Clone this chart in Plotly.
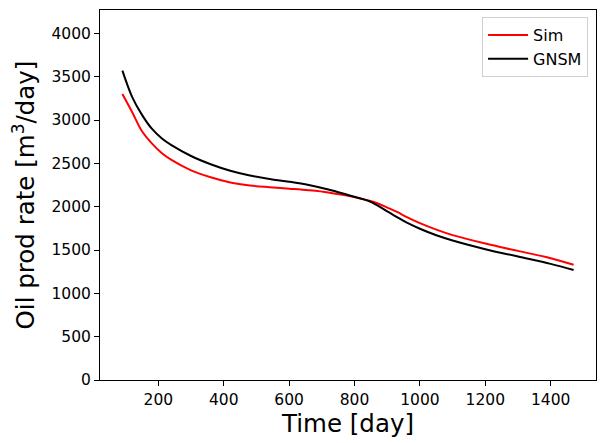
import plotly.graph_objects as go

days = [90, 120, 150, 180, 210, 240, 300, 360, 420, 480, 540, 600, 660, 720,
        780, 840, 870, 900, 930, 960, 1000, 1050, 1100, 1200, 1300, 1400, 1470]

sim = [3300, 3090, 2870, 2730, 2620, 2540, 2420, 2340, 2280, 2245, 2225, 2208,
       2190, 2165, 2125, 2075, 2040, 1990, 1940, 1880, 1810, 1735, 1672, 1575,
       1490, 1405, 1330]

gnsm = [3570, 3265, 3060, 2900, 2790, 2710, 2585, 2490, 2415, 2360, 2320, 2288,
        2250, 2198, 2135, 2070, 2015, 1945, 1880, 1815, 1745, 1670, 1610, 1510,
        1425, 1340, 1270]

x_ticks = [200, 400, 600, 800, 1000, 1200, 1400]
y_ticks = [0, 500, 1000, 1500, 2000, 2500, 3000, 3500, 4000]

font = "DejaVu Sans"

fig = go.Figure()
fig.add_trace(go.Scatter(x=days, y=sim, mode="lines", name="Sim",
                         line=dict(color="#ff0000", width=2, shape="spline")))
fig.add_trace(go.Scatter(x=days, y=gnsm, mode="lines", name="GNSM",
                         line=dict(color="#000000", width=2, shape="spline")))

axis_common = dict(showgrid=False, zeroline=False, showline=True, linecolor="black",
                   linewidth=1, mirror=True, ticks="outside", ticklen=5,
                   tickcolor="black", tickwidth=1,
                   tickfont=dict(family=font, size=15.5, color="black"))

fig.update_layout(
    width=597, height=435,
    margin=dict(l=92, r=9, t=2, b=63),
    paper_bgcolor="white", plot_bgcolor="white",
    font=dict(family=font, color="black"),
    xaxis=dict(range=[21.5, 1538.5], tickvals=x_ticks,
               title=dict(text="Time [day]", font=dict(family=font, size=24.5), standoff=6),
               **axis_common),
    yaxis=dict(range=[0, 4270], tickvals=y_ticks,
               title=dict(text="Oil prod rate [m<sup>3</sup>/day]",
                          font=dict(family=font, size=24.5), standoff=11),
               **axis_common),
    legend=dict(x=0.984, y=0.981, xanchor="right", yanchor="top",
                itemwidth=40,
                bgcolor="rgba(255,255,255,0.8)", bordercolor="#d0d0d0", borderwidth=1,
                font=dict(family=font, size=16, color="black")),
    showlegend=True,
)

fig.write_html("out.html")
